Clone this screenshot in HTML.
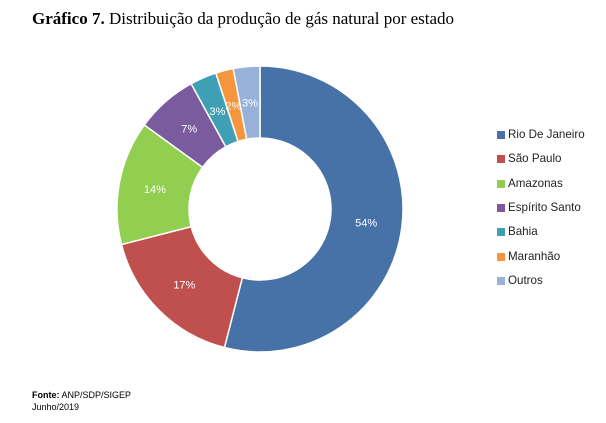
<!DOCTYPE html>
<html><head><meta charset="utf-8">
<style>
body{margin:0;background:#fff;width:606px;height:423px;overflow:hidden;position:relative;font-family:"Liberation Sans",sans-serif}
#title{position:absolute;left:32px;top:9px;font-family:"Liberation Serif",serif;font-size:17px;color:#000}
.leg{position:absolute;left:497px;font-size:11.6px;color:#222;height:14px;line-height:14px}
.leg span.sw{position:absolute;left:0;top:3px;width:8px;height:8px}
.leg span.t{position:absolute;left:11px;white-space:nowrap}
#foot{position:absolute;left:32px;top:389px;font-size:9px;line-height:12px;color:#000}
</style></head><body>
<div id="title"><b>Gráfico 7.</b> Distribuição da produção de gás natural por estado</div>
<svg id="chart" width="606" height="423" style="position:absolute;left:0;top:0"></svg>
<div id="legend"></div>
<div id="foot"><b>Fonte:</b> ANP/SDP/SIGEP<br>Junho/2019</div>
<script>
const categories=["Rio De Janeiro","São Paulo","Amazonas","Espírito Santo","Bahia","Maranhão","Outros"];
const values=[54,17,14,7,3,2,3];
const colors=["#4672A8","#C0504D","#92CF50","#7A5C9E","#3FA0B5","#F5963F","#97B1D9"];
const cx=260,cy=209,R=143,r=71,LR=107;
const svg=document.getElementById('chart');
const NS="http://www.w3.org/2000/svg";
const total=values.reduce((a,b)=>a+b,0);
let a0=0;
function pt(rad,a){return [cx+rad*Math.sin(a),cy-rad*Math.cos(a)];}
values.forEach((v,i)=>{
  const a1=a0+v/total*2*Math.PI;
  const [x0,y0]=pt(R,a0),[x1,y1]=pt(R,a1),[x2,y2]=pt(r,a1),[x3,y3]=pt(r,a0);
  const large=(a1-a0)>Math.PI?1:0;
  const p=document.createElementNS(NS,'path');
  p.setAttribute('d',`M${x0},${y0}A${R},${R} 0 ${large} 1 ${x1},${y1}L${x2},${y2}A${r},${r} 0 ${large} 0 ${x3},${y3}Z`);
  p.setAttribute('fill',colors[i]);p.setAttribute('stroke','#fff');p.setAttribute('stroke-width','1.5');
  
  
  svg.appendChild(p);
  const [lx,ly]=pt(LR,(a0+a1)/2);
  const t=document.createElementNS(NS,'text');
  t.setAttribute('x',lx);t.setAttribute('y',ly+4);t.setAttribute('text-anchor','middle');
  t.setAttribute('font-size','11');t.setAttribute('fill','#fff');t.setAttribute('font-family','Liberation Sans, sans-serif');
  t.textContent=v+'%';
  
  
  svg.appendChild(t);
  a0=a1;
});
const lg=document.getElementById('legend');
categories.forEach((c,i)=>{
  const d=document.createElement('div');
  d.className='leg';d.style.top=(128+i*24.3)+'px';
  d.innerHTML=`<span class="sw" style="background:${colors[i]}"></span><span class="t">${c}</span>`;
  
  
  lg.appendChild(d);
});
</script>
</body></html>
